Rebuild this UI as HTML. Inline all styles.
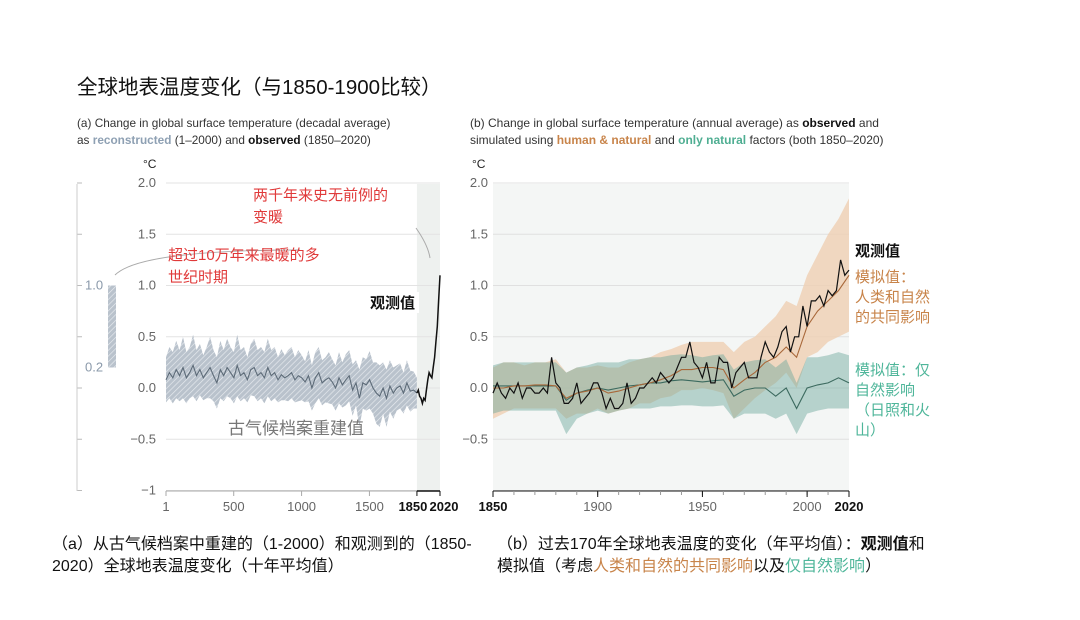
<!DOCTYPE html>
<html><head><meta charset="utf-8"><style>
body{margin:0;background:#fff;width:1080px;height:620px;overflow:hidden;font-family:"Liberation Sans","Noto Sans CJK SC",sans-serif;}
svg{position:absolute;left:0;top:0}
.t{position:absolute;white-space:nowrap;color:#222}
</style></head><body>
<svg id="c" width="1080" height="620">
<defs><pattern id="hatch" width="4" height="4" patternUnits="userSpaceOnUse" patternTransform="rotate(45)"><rect width="4" height="4" fill="#b9c2cc"/><line x1="0" y1="0" x2="0" y2="4" stroke="#e8ecf0" stroke-width="1.3"/></pattern></defs>
</svg>
<div class="t" style="left:77px;top:70px;font-size:20.5px;color:#111">全球地表温度变化（与1850-1900比较）</div>
<div class="t" style="left:77px;top:115px;font-size:11.8px;line-height:17px;color:#333">(a) Change in global surface temperature (decadal average)<br>as <b style="color:#8ea0b3">reconstructed</b> (1–2000) and <b style="color:#111">observed</b> (1850–2020)</div>
<div class="t" style="left:470px;top:115px;font-size:12px;line-height:17px;color:#333">(b) Change in global surface temperature (annual average) as <b style="color:#111">observed</b> and<br>simulated using <b style="color:#c8844a">human &amp; natural</b> and <b style="color:#4fae92">only natural</b> factors (both 1850–2020)</div>
<div class="t" style="left:143px;top:157px;font-size:12px">°C</div>
<div class="t" style="left:472px;top:157px;font-size:12px">°C</div>
<div class="t" style="left:253px;top:185px;font-size:15px;line-height:22px;color:#e03a3a">两千年来史无前例的<br>变暖</div>
<div class="t" style="left:168px;top:245px;font-size:15px;line-height:22px;color:#e03a3a">超过10万年来最暖的多<br>世纪时期</div>
<div class="t" style="left:366px;top:292px;font-size:15px;font-weight:bold;color:#111;background:#fff;padding:0 4px">观测值</div>
<div class="t" style="left:228px;top:414px;font-size:17px;color:#777">古气候档案重建值</div>
<div class="t" style="left:855px;top:240px;font-size:15px;font-weight:bold;color:#111">观测值</div>
<div class="t" style="left:855px;top:268px;font-size:15px;line-height:20px;color:#c8844a">模拟值：<br>人类和自然<br>的共同影响</div>
<div class="t" style="left:855px;top:361px;font-size:15px;line-height:20px;color:#4fb69a">模拟值：仅<br>自然影响<br>（日照和火<br>山）</div>
<div class="t" style="left:52px;top:534px;font-size:16px;line-height:22px;color:#111">（a）从古气候档案中重建的（1-2000）和观测到的（1850-<br>2020）全球地表温度变化（十年平均值）</div>
<div class="t" style="left:497px;top:534px;font-size:16px;line-height:22px;color:#111">（b）过去170年全球地表温度的变化（年平均值）：<b>观测值</b>和<br>模拟值（考虑<span style="color:#c8844a">人类和自然的共同影响</span>以及<span style="color:#4fb69a">仅自然影响</span>）</div>
<script>
const reconYears=[];for(let y=1;y<=1851;y+=25)reconYears.push(y);
const reconVals=[0.08,0.15,0.1,0.18,0.12,0.2,0.1,0.15,0.22,0.12,0.18,0.1,0.15,0.2,0.12,0.05,0.18,0.12,0.2,0.15,0.1,0.22,0.12,0.15,0.08,0.18,0.2,0.12,0.15,0.1,0.2,0.12,0.15,0.08,0.13,0.1,0.12,0.15,0.08,0.12,0.1,0.06,0.12,0.0,0.1,0.15,0.05,0.08,0.1,0.06,0.0,0.1,0.03,0.08,0.12,-0.02,0.05,-0.1,0.05,0.03,0.08,0.0,-0.05,-0.08,0.0,-0.1,0.02,-0.05,0.0,0.02,-0.05,0.05,-0.03,-0.02,-0.05];
const reconHalf=[0.22,0.25,0.25,0.28,0.25,0.3,0.25,0.25,0.3,0.25,0.25,0.22,0.25,0.3,0.25,0.25,0.28,0.25,0.28,0.25,0.25,0.3,0.25,0.25,0.22,0.25,0.28,0.25,0.25,0.25,0.28,0.25,0.25,0.22,0.25,0.22,0.25,0.25,0.22,0.25,0.22,0.2,0.25,0.22,0.25,0.25,0.22,0.22,0.25,0.22,0.22,0.25,0.22,0.25,0.25,0.25,0.22,0.28,0.25,0.25,0.28,0.25,0.3,0.3,0.25,0.28,0.25,0.25,0.22,0.22,0.2,0.22,0.2,0.18,0.15];
const obsDecYears=[1850,1860,1870,1880,1890,1900,1910,1920,1930,1940,1950,1960,1970,1980,1990,2000,2010,2020];
const obsDecVals=[-0.05,-0.02,-0.08,-0.1,-0.15,-0.1,-0.12,-0.02,0.08,0.15,0.12,0.1,0.2,0.3,0.45,0.6,0.85,1.1];
const obsYears=[];for(let y=1850;y<=2020;y+=2)obsYears.push(y);
const obsVals=[-0.05,0.05,-0.05,-0.1,0.0,-0.05,0.05,-0.1,0.0,0.0,-0.05,-0.05,0.0,-0.05,0.3,0.05,0.0,-0.15,-0.15,-0.1,0.05,-0.15,-0.1,-0.05,0.05,0.05,-0.05,-0.2,-0.1,-0.2,-0.2,-0.15,0.05,-0.15,-0.1,0.0,0.0,0.05,0.1,0.05,0.15,0.1,0.05,0.1,0.2,0.3,0.3,0.45,0.25,0.2,0.1,0.25,0.05,0.05,0.3,0.25,0.25,0.0,0.15,0.2,0.25,0.1,0.1,0.1,0.3,0.45,0.35,0.3,0.4,0.55,0.6,0.35,0.5,0.5,0.8,0.6,0.85,0.85,0.9,0.8,0.95,0.9,0.95,1.25,1.1,1.15];
const simYears=[];for(let y=1850;y<=2020;y+=5)simYears.push(y);
const hnMean=[0.0,0.0,0.02,0.02,0.03,0.03,0.02,-0.1,-0.05,-0.03,0.0,-0.05,-0.03,0.0,0.03,0.05,0.08,0.12,0.18,0.18,0.2,0.2,0.18,0.0,0.08,0.15,0.25,0.3,0.4,0.3,0.6,0.75,0.85,0.95,1.1];
const hnLow=[-0.3,-0.25,-0.2,-0.2,-0.2,-0.2,-0.2,-0.3,-0.25,-0.25,-0.2,-0.25,-0.22,-0.2,-0.15,-0.15,-0.1,-0.08,-0.02,-0.02,0.0,-0.02,-0.05,-0.3,-0.2,-0.1,-0.02,0.05,0.15,0.0,0.3,0.35,0.45,0.5,0.55];
const hnHigh=[0.2,0.25,0.25,0.22,0.25,0.25,0.28,0.15,0.2,0.2,0.22,0.2,0.2,0.25,0.28,0.3,0.35,0.38,0.42,0.45,0.45,0.45,0.45,0.35,0.45,0.5,0.6,0.7,0.85,0.8,1.1,1.3,1.5,1.65,1.85];
const natMean=[0.02,0.02,0.02,0.02,0.02,0.02,0.02,-0.12,-0.05,-0.02,0.0,-0.02,0.0,0.02,0.03,0.05,0.05,0.07,0.08,0.07,0.06,0.07,0.08,-0.08,-0.02,0.0,0.0,-0.08,0.0,-0.2,0.0,0.03,0.05,0.1,0.05];
const natLow=[-0.25,-0.22,-0.22,-0.22,-0.22,-0.22,-0.22,-0.45,-0.3,-0.25,-0.22,-0.25,-0.22,-0.2,-0.2,-0.2,-0.18,-0.18,-0.17,-0.17,-0.18,-0.18,-0.17,-0.3,-0.25,-0.25,-0.25,-0.3,-0.25,-0.45,-0.25,-0.22,-0.2,-0.2,-0.2];
const natHigh=[0.22,0.25,0.25,0.25,0.25,0.25,0.25,0.15,0.2,0.22,0.25,0.25,0.25,0.28,0.28,0.3,0.3,0.32,0.33,0.32,0.3,0.32,0.33,0.18,0.25,0.27,0.28,0.2,0.28,0.05,0.3,0.3,0.32,0.35,0.32];
const yTicksA=[2.0,1.5,1.0,0.5,0.0,-0.5,-1];
const yTickLabA=["2.0","1.5","1.0","0.5","0.0","−0.5","−1"];
const xTicksA=[1,500,1000,1500,1850,2020];
const xTicksB=[1850,1900,1950,2000,2020];
const sideTicks=[1.0,0.2];

const NS='http://www.w3.org/2000/svg',svg=document.getElementById('c');
function el(t,a,p){const e=document.createElementNS(NS,t);for(const k in a)e.setAttribute(k,a[k]);(p||svg).appendChild(e);return e;}
function txt(x,y,s,a){const e=el('text',Object.assign({x,y,'font-size':13,fill:'#666','font-family':'Liberation Sans, sans-serif'},a||{}));e.textContent=s;return e;}
const yS=v=>388-v*102.5;
const xA=y=>166+(y-1)*(274/2019);
const xB=y=>493+(y-1850)*(356/170);
const pathOf=(xs,ys,fx)=>xs.map((x,i)=>(i?'L':'M')+fx(x).toFixed(1)+','+yS(ys[i]).toFixed(1)).join('');
const bandOf=(xs,lo,hi,fx)=>pathOf(xs,hi,fx)+xs.slice().reverse().map((x,i)=>'L'+fx(x).toFixed(1)+','+yS(lo[xs.length-1-i]).toFixed(1)).join('')+'Z';

// Panel A
let g=el('rect',{x:xA(1850),y:184,width:xA(2020)-xA(1850),height:307,fill:'#eef1ef'});
yTicksA.forEach((v,i)=>{const l=el('line',{x1:166,x2:440,y1:yS(v),y2:yS(v),stroke:'#e3e3e3'});
 const t=txt(156,yS(v)+4,yTickLabA[i],{'text-anchor':'end'});
 const s=el('line',{x1:77,x2:82,y1:yS(v),y2:yS(v),stroke:'#bbb'});});
g=el('line',{x1:77,x2:77,y1:184,y2:491,stroke:'#ccc'});
sideTicks.forEach(v=>{const t=txt(85,yS(v)+4,v.toFixed(1),{fill:'#8a99aa'});});
g=el('rect',{x:108,y:yS(sideTicks[0]),width:8,height:yS(sideTicks[1])-yS(sideTicks[0]),fill:'url(#hatch)'});
const ry=reconYears.map(v=>Math.min(v,1850));
g=el('path',{d:bandOf(ry,reconVals.map((v,i)=>v-reconHalf[i]),reconVals.map((v,i)=>v+reconHalf[i]),xA),fill:'url(#hatch)'});
g=el('path',{d:pathOf(ry,reconVals,xA),fill:'none',stroke:'#5d6b78','stroke-width':1.1});
g=el('path',{d:pathOf(obsDecYears,obsDecVals,xA),fill:'none',stroke:'#111','stroke-width':1.5});
g=el('line',{x1:166,x2:440,y1:491,y2:491,stroke:'#aaa'});
xTicksA.forEach(v=>{const b=v>=1850;const l=el('line',{x1:xA(v),x2:xA(v),y1:491,y2:496,stroke:b?'#111':'#aaa'});
 const t=txt(xA(v)+(v===2020?4:v===1850?-4:0),511,String(v),{'text-anchor':'middle',fill:b?'#111':'#666','font-weight':b?'bold':'normal'});});
g=el('line',{x1:xA(1850),x2:xA(2020),y1:491,y2:491,stroke:'#111','stroke-width':1.5});
g=el('path',{d:'M300,250 Q140,250 115,275',fill:'none',stroke:'#aaa'});
g=el('path',{d:'M416,228 Q428,245 430,258',fill:'none',stroke:'#aaa'});

// Panel B
g=el('rect',{x:493,y:184,width:356,height:307,fill:'#f4f6f5'});
yTicksA.forEach((v,i)=>{const l=el('line',{x1:493,x2:849,y1:yS(v),y2:yS(v),stroke:'#e0e0e0'});
 if(v>-1){const t=txt(488,yS(v)+4,yTickLabA[i],{'text-anchor':'end'});}});
g=el('path',{d:bandOf(simYears,hnLow,hnHigh,xB),fill:'#efcfb3','fill-opacity':0.8});
g=el('path',{d:bandOf(simYears,natLow,natHigh,xB),fill:'#6aa79c','fill-opacity':0.45});
g=el('path',{d:pathOf(simYears,natMean,xB),fill:'none',stroke:'#3c6a5f','stroke-width':1.1});
g=el('path',{d:pathOf(simYears,hnMean,xB),fill:'none',stroke:'#a8683a','stroke-width':1.1});
g=el('path',{d:pathOf(obsYears,obsVals,xB),fill:'none',stroke:'#111','stroke-width':1.2});
g=el('line',{x1:493,x2:849,y1:491,y2:491,stroke:'#111'});
for(let y=1850;y<=2020;y+=10){const l=el('line',{x1:xB(y),x2:xB(y),y1:491,y2:495,stroke:'#999'});}
xTicksB.forEach(v=>{const b=v===1850||v===2020;const l=el('line',{x1:xB(v),x2:xB(v),y1:491,y2:497,stroke:'#111'});
 const t=txt(xB(v),511,String(v),{'text-anchor':'middle',fill:b?'#111':'#666','font-weight':b?'bold':'normal'});});
</script>
</body></html>
